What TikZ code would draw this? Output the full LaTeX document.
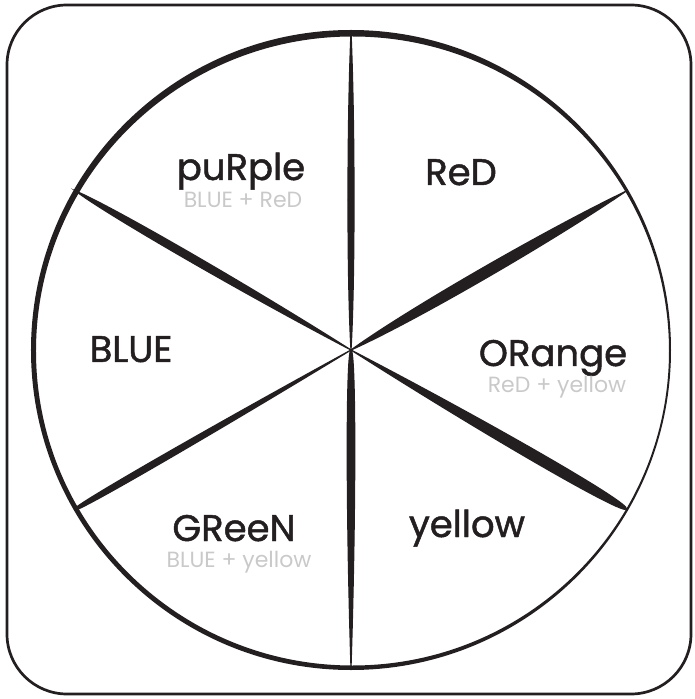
\documentclass[tikz,border=0pt]{standalone}
\usepackage{fontspec}
\setmainfont{Poppins}
\usepackage{tikz}
\definecolor{ink}{HTML}{231F20}
\definecolor{mixgray}{HTML}{C9C9C9}
% one tapered spoke: angle, middle of the two controls, control offset
\newcommand{\spoke}[3]{%
  \begin{scope}[rotate=#1]
    \filldraw[ink,line width=1.2pt] (0,0)
      .. controls ({#2-80},#3) and ({#2+80},#3) .. (318,0)
      .. controls ({#2+80},-#3) and ({#2-80},-#3) .. (0,0);
  \end{scope}}

\begin{document}
\begin{tikzpicture}[x=1pt,y=1pt,
  colour/.style={anchor=base,text=ink,
    font=\addfontfeature{FakeBold=1.3}\fontsize{37}{40}\selectfont},
  mix/.style={anchor=base,text=mixgray,font=\fontsize{22}{24}\selectfont}]
  \useasboundingbox (-351,-349) rectangle (343,350);
  \coordinate (ctr) at (0,0);
  % frame
  \draw[ink,line width=2.7pt,rounded corners=60pt] (-344,-344) rectangle (340,345);
  % wheel rim, heavier at top and left
  \fill[ink,even odd rule] (ctr) circle[radius=320]
    (1.5,-1) ellipse[x radius=316.5,y radius=314.5];
  % spokes
  \spoke{90}{147}{4}
  \spoke{270}{80}{5}
  \spoke{30}{147}{7}
  \spoke{-30}{240}{7}
  \spoke{150}{200}{5}
  \spoke{210}{253}{4}
  % labels
  \node[colour] (purple) at (-110,170) {puRple};
  \node[mix] (purplemix) at (-108,142) {BLUE + ReD};
  \node[colour] (red) at (110,165) {ReD};
  \node[colour] (blue) at (-220,-12) {BLUE};
  \node[colour] (orange) at (202,-16) {ORange};
  \node[mix] (orangemix) at (206,-42) {ReD + yellow};
  \node[colour] (yellow) at (116,-187) {yellow};
  \node[colour] (green) at (-117,-191) {GReeN};
  \node[mix] (greenmix) at (-112,-217) {BLUE + yellow};
\end{tikzpicture}
\end{document}
